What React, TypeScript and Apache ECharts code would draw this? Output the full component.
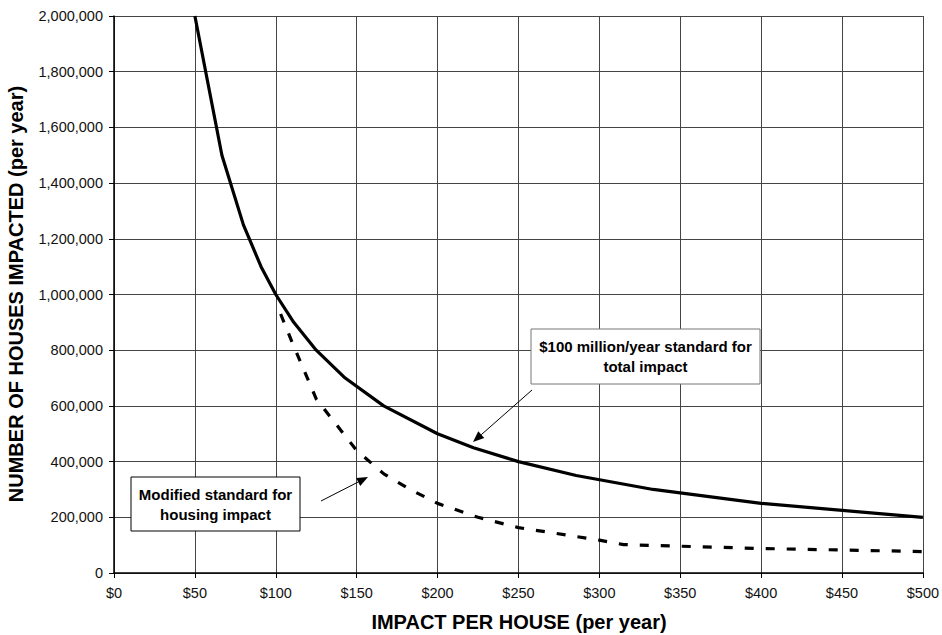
import React, { useEffect, useRef } from "react";
import * as echarts from "echarts";

// Solid line: $100 million/year standard (impact per house, houses impacted)
const totalX = [50, 66.7, 80, 90.9, 100, 111.1, 125, 142.9, 166.7, 200, 222.2, 250, 285.7, 333.3, 400, 500];
const totalY = [2000000, 1500000, 1250000, 1100000, 1000000, 900000, 800000, 700000, 600000, 500000, 450000, 400000, 350000, 300000, 250000, 200000];

// Dashed line: modified standard for housing impact
const housingX = [103, 110, 125, 150, 167, 183, 200, 225, 250, 300, 315, 400, 500];
const housingY = [930000, 830000, 625000, 440000, 355000, 300000, 250000, 200000, 163000, 118000, 102000, 88000, 77000];

const xTicks = [0, 50, 100, 150, 200, 250, 300, 350, 400, 450, 500];
const yMax = 2000000;
const yStep = 200000;

const xTitle = "IMPACT PER HOUSE (per year)";
const yTitle = "NUMBER OF HOUSES IMPACTED (per year)";
const note1 = ["$100 million/year standard for", "total impact"];
const note2 = ["Modified standard for", "housing impact"];

const FONT = "'Liberation Sans', Arial, Helvetica, sans-serif";

function arrow(x1: number, y1: number, x2: number, y2: number) {
  const dx = x2 - x1;
  const dy = y2 - y1;
  const len = Math.sqrt(dx * dx + dy * dy);
  const ux = dx / len;
  const uy = dy / len;
  const hl = 11;
  const hw = 4.5;
  const bx = x2 - ux * hl;
  const by = y2 - uy * hl;
  const nx = -uy;
  const ny = ux;
  return [
    { type: "line", shape: { x1, y1, x2: bx, y2: by }, style: { stroke: "#000", lineWidth: 1 }, z: 100 },
    {
      type: "polygon",
      shape: { points: [[x2, y2], [bx + nx * hw, by + ny * hw], [bx - nx * hw, by - ny * hw]] },
      style: { fill: "#000" },
      z: 100,
    },
  ];
}

function noteBox(x: number, y: number, w: number, h: number, lines: string[], border: string) {
  return [
    { type: "rect", shape: { x, y, width: w, height: h }, style: { fill: "#fff", stroke: border, lineWidth: 1 }, z: 100 },
    {
      type: "text",
      x: x + w / 2,
      y: y + h / 2,
      style: {
        text: lines.join("\n"),
        fill: "#000",
        font: `bold 15px ${FONT}`,
        align: "center",
        verticalAlign: "middle",
        lineHeight: 20,
      },
      z: 101,
    },
  ];
}

export default function App() {
  const ref = useRef<HTMLDivElement>(null);

  useEffect(() => {
    if (!ref.current) return;
    const chart = echarts.init(ref.current, undefined, { renderer: "svg" });
    const gridColor = "#444";
    chart.setOption({
      animation: false,
      backgroundColor: "#fff",
      grid: { left: 114, right: 17, top: 16, bottom: 62, containLabel: false },
      xAxis: {
        type: "value",
        min: xTicks[0],
        max: xTicks[xTicks.length - 1],
        interval: 50,
        axisLine: { show: true, onZero: false, lineStyle: { color: "#000", width: 1.5 } },
        axisTick: { show: true, length: 5, lineStyle: { color: "#000", width: 1 } },
        axisLabel: {
          margin: 12,
          color: "#111",
          fontFamily: FONT,
          fontSize: 14.5,
          formatter: (v: number) => "$" + v,
        },
        splitLine: { show: true, lineStyle: { color: gridColor, width: 1 } },
      },
      yAxis: {
        type: "value",
        min: 0,
        max: yMax,
        interval: yStep,
        axisLine: { show: true, lineStyle: { color: "#000", width: 1.5 } },
        axisTick: { show: true, length: 5, lineStyle: { color: "#000", width: 1 } },
        axisLabel: {
          margin: 11,
          color: "#111",
          fontFamily: FONT,
          fontSize: 14.5,
          formatter: (v: number) => v.toLocaleString("en-US"),
        },
        splitLine: { show: true, lineStyle: { color: gridColor, width: 1 } },
      },
      series: [
        {
          type: "line",
          name: "total",
          data: totalX.map((x, i) => [x, totalY[i]]),
          showSymbol: false,
          symbol: "none",
          lineStyle: { color: "#000", width: 3.2 },
          z: 10,
        },
        {
          type: "line",
          name: "housing",
          data: housingX.map((x, i) => [x, housingY[i]]),
          showSymbol: false,
          symbol: "none",
          lineStyle: { color: "#000", width: 3.2, type: [9, 12] },
          z: 10,
        },
      ],
      graphic: [
        ...arrow(532, 390, 473, 442),
        ...arrow(321, 501, 368, 477),
        ...noteBox(531, 329, 229, 55, note1, "#777"),
        ...noteBox(131, 477, 169, 54, note2, "#000"),
        {
          type: "text",
          x: 519,
          y: 622,
          style: { text: xTitle, fill: "#000", font: `bold 20px ${FONT}`, align: "center", verticalAlign: "middle" },
        },
        {
          type: "text",
          x: 16,
          y: 294,
          rotation: Math.PI / 2,
          style: { text: yTitle, fill: "#000", font: `bold 20px ${FONT}`, align: "center", verticalAlign: "middle" },
        },
      ],
    });
    return () => chart.dispose();
  }, []);

  return (
    <div
      ref={ref}
      style={{ position: "fixed", left: 0, top: 0, width: 942, height: 635, background: "#fff" }}
    />
  );
}
